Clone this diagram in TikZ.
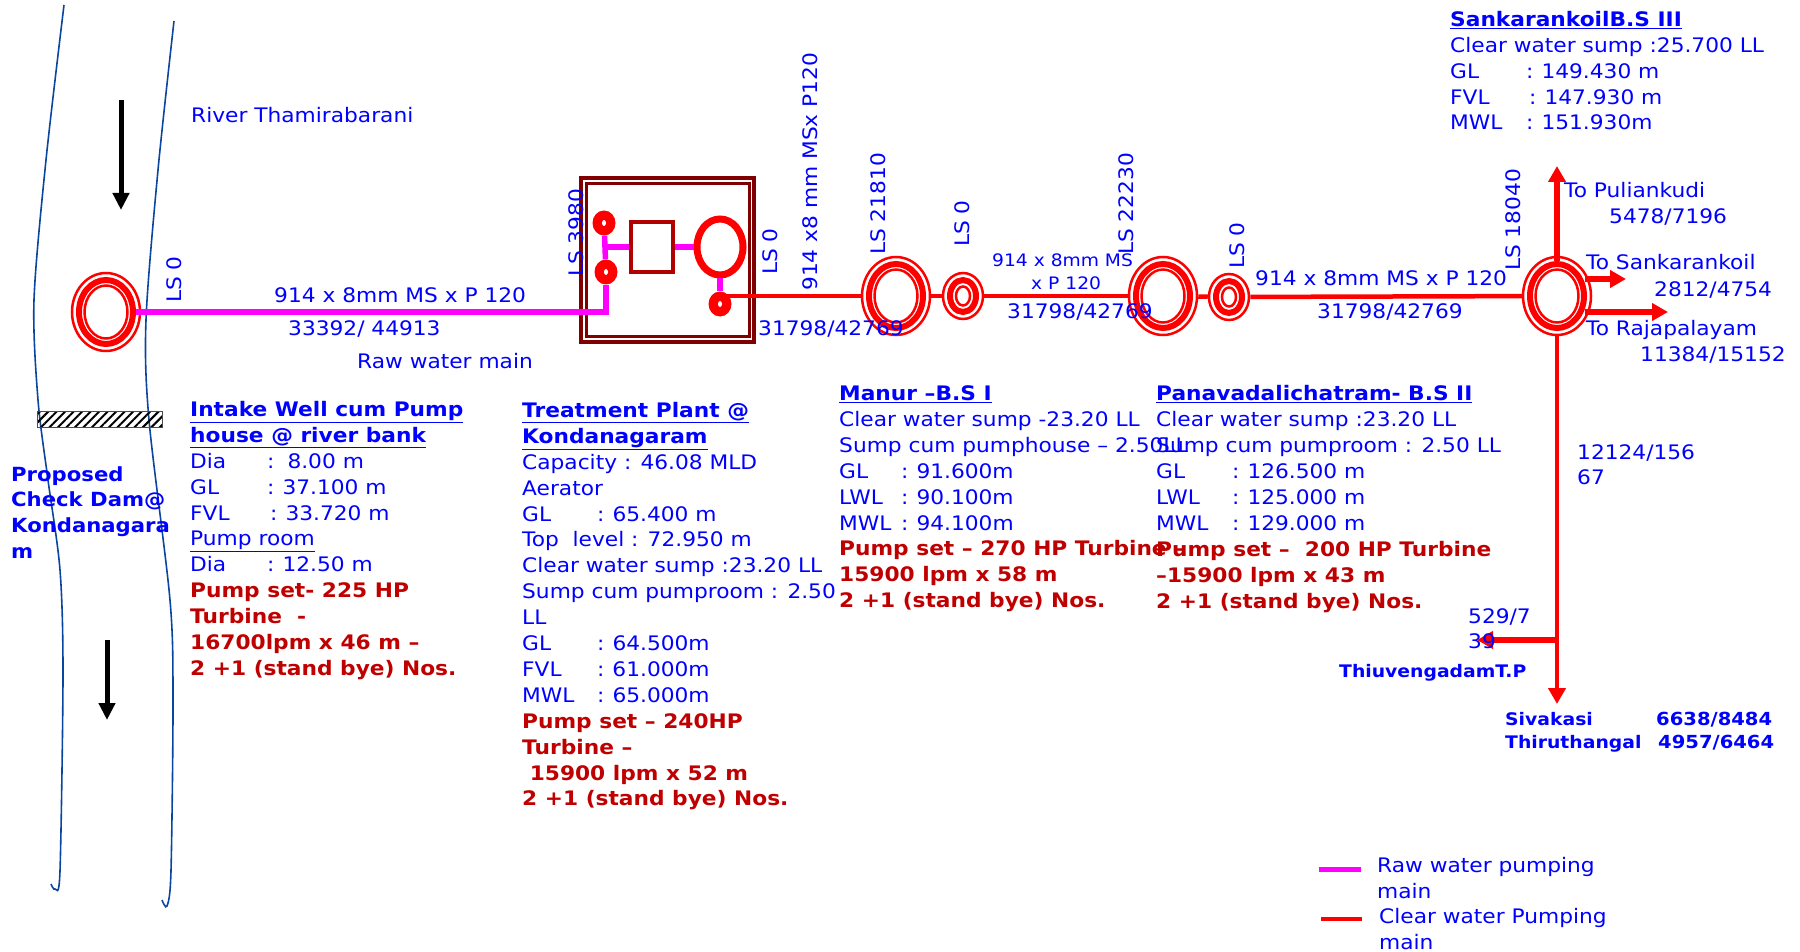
\documentclass[tikz,border=0pt]{standalone}
\usepackage{fontspec}
\usepackage{xcolor}
\usepackage{tikz}
\usetikzlibrary{shapes.geometric, arrows.meta, patterns.meta}
\setmainfont[FakeStretch=1.086]{DejaVu Sans}
\definecolor{textblue}{RGB}{0, 0, 255}
\definecolor{pumpred}{RGB}{192, 0, 0}
\definecolor{plantred}{RGB}{128, 0, 0}
\definecolor{aerred}{RGB}{176, 0, 0}
\definecolor{riverblue}{RGB}{10, 70, 160}
\definecolor{rawpink}{RGB}{255, 0, 255}
\newcommand{\lvl}[3]{\makebox[#1][l]{#2}:\hspace{8pt}#3}
\newcommand{\pumptxt}[1]{{\color{pumpred}\bfseries #1}}

\begin{document}
\begin{tikzpicture}[x=1pt, y=-1pt,
    txt/.style={anchor=base west, inner sep=0pt, text=textblue, font=\fontsize{20}{25.9}\selectfont},
    block/.style={anchor=north west, inner sep=0pt, align=left, text=textblue, font=\fontsize{20}{25.9}\selectfont},
    small/.style={anchor=base west, inner sep=0pt, text=textblue, font=\fontsize{17.2}{22}\selectfont},
    place/.style={anchor=base west, inner sep=0pt, text=textblue, font=\fontsize{17.3}{22}\selectfont\bfseries},
    placenum/.style={place, font=\fontsize{18}{22}\selectfont\bfseries},
    lslabel/.style={anchor=west, rotate=90, inner sep=0pt, text=textblue, font=\fontsize{20}{25.9}\selectfont},
    ringout/.style={ellipse, draw=red, line width=2.5pt, fill=white, inner sep=0pt},
    ringmid/.style={ellipse, draw=red, line width=6pt, inner sep=0pt},
    ringin/.style={ellipse, draw=red, line width=2.5pt, inner sep=0pt},
    pumpdot/.style={ellipse, fill=red, minimum width=23pt, minimum height=25pt, inner sep=0pt},
    pumphole/.style={ellipse, fill=white, minimum width=4pt, minimum height=6pt, inner sep=0pt},
    rawmain/.style={draw=rawpink, line width=5.5pt},
    clearmain/.style={draw=red, line width=4.5pt},
    flowtip/.style={-{Triangle[length=16pt, width=17pt]}, draw=red, line width=5.5pt},
    riverarr/.style={-{Triangle[length=17pt, width=16pt]}, draw=black, line width=5pt},
    bank/.style={draw=riverblue, line width=1.6pt}
]
\useasboundingbox (0,0) rectangle (1800,952);

% river
\draw[bank] plot[smooth] coordinates {(64,5) (46,160) (34,300) (38,400) (48,480) (60,570) (63,673) (60,871) (55,889) (51,884)};
\draw[bank] plot[smooth] coordinates {(174,21) (158,170) (146,320) (149,420) (170,600) (173,700) (171,871) (167,906) (162,900)};
\node[draw=black!70, line width=1pt, pattern={Lines[angle=45, distance=6pt, line width=2pt]}, minimum width=125pt, minimum height=16pt, inner sep=0pt] (dam) at (100,419) {};
\coordinate (flowa) at (121,100);
\coordinate (flowb) at (121,210);
\coordinate (flowc) at (107,640);
\coordinate (flowd) at (107,720);
\draw[riverarr] (flowa) -- (flowb);
\draw[riverarr] (flowc) -- (flowd);

% intake well
\node[ringout, minimum width=68pt, minimum height=78pt] (intakeout) at (106,312) {};
\node[ringmid, minimum width=54pt, minimum height=64pt] (intakemid) at (106,312) {};
\node[ringin, minimum width=43pt, minimum height=53pt] (intakein) at (106,312) {};

% treatment plant
\node[draw=plantred, line width=3.5pt, minimum width=173pt, minimum height=164pt, inner sep=0pt] (plantout) at (667.5,260) {};
\node[draw=plantred, line width=3pt, minimum width=163pt, minimum height=152pt, inner sep=0pt] (plantin) at (667.5,260) {};
\node[draw=aerred, line width=3.5pt, minimum width=42pt, minimum height=50pt, inner sep=0pt] (aerator) at (652,247) {};
\node[ellipse, draw=red, line width=7pt, minimum width=46pt, minimum height=56pt, inner sep=0pt] (sump) at (720,247) {};
\node[pumpdot] (pumpa) at (604,223) {};
\node[pumphole] (holea) at (604,223) {};
\node[pumpdot] (pumpb) at (606,272) {};
\node[pumphole] (holeb) at (606,272) {};
\node[pumpdot] (pumpc) at (720,304) {};
\node[pumphole] (holec) at (720,304) {};

% booster stations
\node[ringout, minimum width=68pt, minimum height=78pt] (manurout) at (896,296) {};
\node[ringmid, minimum width=54pt, minimum height=64pt] (manurmid) at (896,296) {};
\node[ringin, minimum width=43pt, minimum height=53pt] (manurin) at (896,296) {};
\node[ringout, minimum width=40pt, minimum height=46pt] (sumpaout) at (963,296) {};
\node[ringmid, minimum width=26pt, minimum height=32pt] (sumpamid) at (963,296) {};
\node[ringin, minimum width=14pt, minimum height=19pt] (sumpain) at (963,296) {};
\node[ringout, minimum width=68pt, minimum height=78pt] (panavout) at (1163,296) {};
\node[ringmid, minimum width=54pt, minimum height=64pt] (panavmid) at (1163,296) {};
\node[ringin, minimum width=43pt, minimum height=53pt] (panavin) at (1163,296) {};
\node[ringout, minimum width=40pt, minimum height=46pt] (sumpbout) at (1229,297) {};
\node[ringmid, minimum width=26pt, minimum height=32pt] (sumpbmid) at (1229,297) {};
\node[ringin, minimum width=14pt, minimum height=19pt] (sumpbin) at (1229,297) {};
\node[ringout, minimum width=68pt, minimum height=78pt] (sankout) at (1557,296) {};
\node[ringmid, minimum width=54pt, minimum height=64pt] (sankmid) at (1557,296) {};
\node[ringin, minimum width=43pt, minimum height=53pt] (sankin) at (1557,296) {};

% raw water main
\draw[rawmain] (intakemid.east) -| (pumpb.south);
\draw[rawmain] (pumpa) -- (pumpb);
\draw[rawmain] (aerator.west) -- (aerator.west -| pumpa);
\draw[rawmain] (aerator.east) -- (sump.west);
\draw[rawmain] (sump.south) -- (pumpc);

% clear water main
\draw[clearmain] (pumpc.center |- manurout.west) -- (manurout.west);
\draw[clearmain] (manurout) -- (sumpaout);
\draw[clearmain] (sumpaout) -- (panavout);
\draw[clearmain] (panavout) -- (sumpbout);
\draw[clearmain] (sumpbout) -- (sankout);

% branches
\coordinate (puli) at (1557,166);
\coordinate (rta) at (1585,279);
\coordinate (tipa) at (1626,279);
\coordinate (rtb) at (1585,312);
\coordinate (tipb) at (1668,312);
\coordinate (sivak) at (1557,704);
\coordinate (junc) at (1557,640);
\coordinate (thiru) at (1477,640);
\draw[flowtip] (sankmid.north) -- (puli);
\draw[flowtip] (rta) -- (tipa);
\draw[flowtip] (rtb) -- (tipb);
\draw[flowtip, line width=4.5pt] (sankout.south) -- (sivak);
\draw[flowtip] (junc) -- (thiru);

% chainage
\node[lslabel] (lsa) at (174,303) {LS 0};
\node[lslabel] (lsb) at (576,277) {LS 3980};
\node[lslabel] (lsc) at (770,275) {LS 0};
\node[lslabel] (lsd) at (878,255) {LS 21810};
\node[lslabel] (lse) at (962,247) {LS 0};
\node[lslabel] (lsf) at (1126,255) {LS 22230};
\node[lslabel] (lsg) at (1237,269) {LS 0};
\node[lslabel] (lsh) at (1513,271) {LS 18040};
\node[lslabel] (pipev) at (810,291) {914 x8 mm MSx P120};

% pipe labels
\node[txt] (river) at (191,123) {River Thamirabarani};
\node[txt] (pipea) at (274,302) {914 x 8mm MS x P 120};
\node[txt] (qb) at (288,335) {33392/ 44913};
\node[txt] (rawlbl) at (357,368) {Raw water main};
\node[txt] (qa) at (758,335) {31798/42769};
\node[small] (pipeb) at (992,267) {914 x 8mm MS};
\node[small] (pipec) at (1031,290) {x P 120};
\node[txt] (qc) at (1007,319) {31798/42769};
\node[txt] (piped) at (1255,286) {914 x 8mm MS x P 120};
\node[txt] (qd) at (1317,319) {31798/42769};
\node[txt] (topuli) at (1564,198) {To Puliankudi};
\node[txt] (qe) at (1609,224) {5478/7196};
\node[txt] (tosank) at (1586,270) {To Sankarankoil};
\node[txt] (qf) at (1654,296) {2812/4754};
\node[txt] (toraja) at (1586,335) {To Rajapalayam};
\node[txt] (qg) at (1640,361) {11384/15152};
\node[block] (qh) at (1577,444) {12124/156\\67};
\node[block] (qi) at (1468,608) {529/7\\39};
\node[place] (tiru) at (1339,677) {ThiuvengadamT.P};
\node[place] (siva) at (1505,725) {Sivakasi};
\node[placenum] (sivan) at (1656,725) {6638/8484};
\node[place] (thira) at (1505,748) {Thiruthangal};
\node[placenum] (thiran) at (1658,748) {4957/6464};

% station notes
\node[block, font=\fontsize{19.5}{25.9}\selectfont\bfseries] (checkdam) at (11,466) {Proposed\\Check Dam@\\Kondanagara\\m};
\node[block] (intakenote) at (190,401) {\textbf{\underline{Intake Well cum Pump}}\\
  \textbf{\underline{house @ river bank}}\\
  \lvl{77pt}{Dia}{\hspace{5pt}8.00 m}\\
  \lvl{77pt}{GL}{37.100 m}\\
  \lvl{80pt}{FVL}{33.720 m}\\
  \underline{Pump room}\\
  \lvl{77pt}{Dia}{12.50 m}\\
  \pumptxt{Pump set- 225 HP}\\
  \pumptxt{Turbine~~-}\\
  \pumptxt{16700lpm x 46 m --}\\
  \pumptxt{2 +1 (stand bye) Nos.}};
\node[block] (plantnote) at (522,402) {\textbf{\underline{Treatment Plant @}}\\
  \textbf{\underline{Kondanagaram}}\\
  Capacity : 46.08 MLD\\
  Aerator\\
  \lvl{75pt}{GL}{65.400 m}\\
  Top~~level : 72.950 m\\
  Clear water sump :23.20 LL\\
  Sump cum pumproom : 2.50\\
  LL\\
  \lvl{75pt}{GL}{64.500m}\\
  \lvl{75pt}{FVL}{61.000m}\\
  \lvl{75pt}{MWL}{65.000m}\\
  \pumptxt{Pump set -- 240HP}\\
  \pumptxt{Turbine --}\\
  \pumptxt{~15900 lpm x 52 m}\\
  \pumptxt{2 +1 (stand bye) Nos.}};
\node[block] (manurnote) at (839,385.5) {\textbf{\underline{Manur --B.S I}}\\
  Clear water sump -23.20 LL\\
  Sump cum pumphouse -- 2.50LL\\
  \lvl{62pt}{GL}{91.600m}\\
  \lvl{62pt}{LWL}{90.100m}\\
  \lvl{62pt}{MWL}{94.100m}\\
  \pumptxt{Pump set -- 270 HP Turbine --}\\
  \pumptxt{15900 lpm x 58 m}\\
  \pumptxt{2 +1 (stand bye) Nos.}};
\node[block] (panavnote) at (1156,385.5) {\textbf{\underline{Panavadalichatram- B.S II}}\\
  Clear water sump :23.20 LL\\
  Sump cum pumproom : 2.50 LL\\
  \lvl{76pt}{GL}{126.500 m}\\
  \lvl{76pt}{LWL}{125.000 m}\\
  \lvl{76pt}{MWL}{129.000 m}\\
  \pumptxt{Pump set --~~200 HP Turbine}\\
  \pumptxt{--15900 lpm x 43 m}\\
  \pumptxt{2 +1 (stand bye) Nos.}};
\node[block] (sanknote) at (1450,11) {\textbf{\underline{SankarankoilB.S III}}\\
  Clear water sump :25.700 LL\\
  \lvl{76pt}{GL}{149.430 m}\\
  \lvl{79pt}{FVL}{147.930 m}\\
  \lvl{76pt}{MWL}{151.930m}};

% legend
\coordinate (rawa) at (1319,869);
\coordinate (rawb) at (1361,869);
\coordinate (cleara) at (1321,919);
\coordinate (clearb) at (1362,919);
\draw[rawmain, line width=5pt] (rawa) -- (rawb);
\draw[clearmain] (cleara) -- (clearb);
\node[block] (rawkey) at (1377,857) {Raw water pumping\\main};
\node[block] (clearkey) at (1379,908) {Clear water Pumping\\main};
\end{tikzpicture}
\end{document}
